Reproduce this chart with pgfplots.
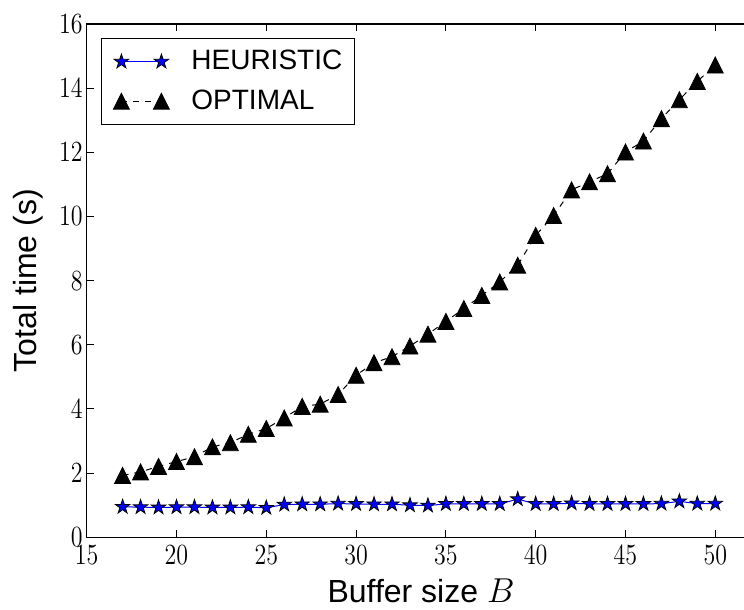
\documentclass[border=0pt]{standalone}
\usepackage{fontspec}
\setmainfont{Liberation Sans}
\usepackage{pgfplots}
\pgfplotsset{compat=1.18}

\pgfdeclareplotmark{mstar}{%
 \pgfpathmoveto{\pgfpointpolar{90}{\pgfplotmarksize}}%
 \pgfpathlineto{\pgfpointpolar{126}{0.382\pgfplotmarksize}}%
 \pgfpathlineto{\pgfpointpolar{162}{\pgfplotmarksize}}%
 \pgfpathlineto{\pgfpointpolar{198}{0.382\pgfplotmarksize}}%
 \pgfpathlineto{\pgfpointpolar{234}{\pgfplotmarksize}}%
 \pgfpathlineto{\pgfpointpolar{270}{0.382\pgfplotmarksize}}%
 \pgfpathlineto{\pgfpointpolar{306}{\pgfplotmarksize}}%
 \pgfpathlineto{\pgfpointpolar{342}{0.382\pgfplotmarksize}}%
 \pgfpathlineto{\pgfpointpolar{18}{\pgfplotmarksize}}%
 \pgfpathlineto{\pgfpointpolar{54}{0.382\pgfplotmarksize}}%
 \pgfpathclose
 \pgfusepathqfillstroke}
\pgfdeclareplotmark{mtri}{%
 \pgfpathmoveto{\pgfpoint{0pt}{\pgfplotmarksize}}%
 \pgfpathlineto{\pgfpoint{-\pgfplotmarksize}{-\pgfplotmarksize}}%
 \pgfpathlineto{\pgfpoint{\pgfplotmarksize}{-\pgfplotmarksize}}%
 \pgfpathclose
 \pgfusepathqfillstroke}

\begin{document}
\begin{tikzpicture}
\path[use as bounding box] (-43.35pt,-36.35pt) rectangle (328.65pt,268.65pt);
\begin{axis}[
  at={(0pt,0pt)}, anchor=south west, scale only axis,
  width=330.5pt, height=256.65pt,
  xmin=15, xmax=51.806, ymin=0, ymax=16,
  xtick={15,20,...,50}, ytick={0,2,...,16},
  ytick pos=left,
  tick align=inside, major tick length=3.5pt,
  axis line style={line width=0.6pt},
  tick style={black, line width=0.5pt},
  tick label style={font=\fontsize{12}{14}\selectfont, yscale=1.22},
  yticklabel style={xshift=1.5pt},
  label style={font=\fontsize{16}{19}\selectfont},
  xlabel={Buffer size $B$},
  ylabel={Total time (s)},
  xlabel style={at={(axis description cs:0.5058,0)}, anchor=base, yshift=-32.35pt},
  ylabel style={at={(axis description cs:-0.0888,0.5)}, anchor=center},
  legend style={at={(axis description cs:0,1)}, anchor=north west, xshift=7.15pt, yshift=-7pt,
    font=\fontsize{14}{16}\selectfont, draw=black, thin, inner xsep=4pt, inner ysep=4pt,
    row sep=4.5pt},
  legend cell align=left,
  legend image code/.code={%
    \path[draw=none,fill=none] (-6pt,-2pt) rectangle (33pt,2pt);
    \draw[mark repeat=1,#1] plot coordinates {(0pt,0pt) (20pt,0pt)};},
]
\addplot[blue, line width=0.5pt, mark=mstar, mark size=3.8pt,
  mark options={fill=blue, draw=black, line width=0.4pt}] coordinates {
(17,0.95) (18,0.94) (19,0.93) (20,0.94) (21,0.94) (22,0.93) (23,0.93) (24,0.94)
(25,0.92) (26,1.02) (27,1.03) (28,1.03) (29,1.05) (30,1.04) (31,1.03) (32,1.03)
(33,1.00) (34,0.99) (35,1.04) (36,1.04) (37,1.04) (38,1.04) (39,1.19) (40,1.04)
(41,1.04) (42,1.06) (43,1.04) (44,1.04) (45,1.04) (46,1.04) (47,1.05) (48,1.12)
(49,1.05) (50,1.05)};
\addlegendentry{HEURISTIC}
\addplot[black, line width=0.5pt, dash pattern=on 3pt off 3pt, mark=mtri, mark size=4pt,
  mark options={solid, fill=black, line width=0.4pt}] coordinates {
(17,1.93) (18,2.04) (19,2.21) (20,2.36) (21,2.51) (22,2.82) (23,2.95) (24,3.21)
(25,3.39) (26,3.72) (27,4.08) (28,4.15) (29,4.45) (30,5.05) (31,5.44) (32,5.63)
(33,5.96) (34,6.33) (35,6.73) (36,7.13) (37,7.54) (38,7.96) (39,8.48) (40,9.41)
(41,10.03) (42,10.83) (43,11.08) (44,11.33) (45,12.01) (46,12.35) (47,13.05) (48,13.64)
(49,14.21) (50,14.72)};
\addlegendentry{OPTIMAL}
\end{axis}
\end{tikzpicture}
\end{document}
